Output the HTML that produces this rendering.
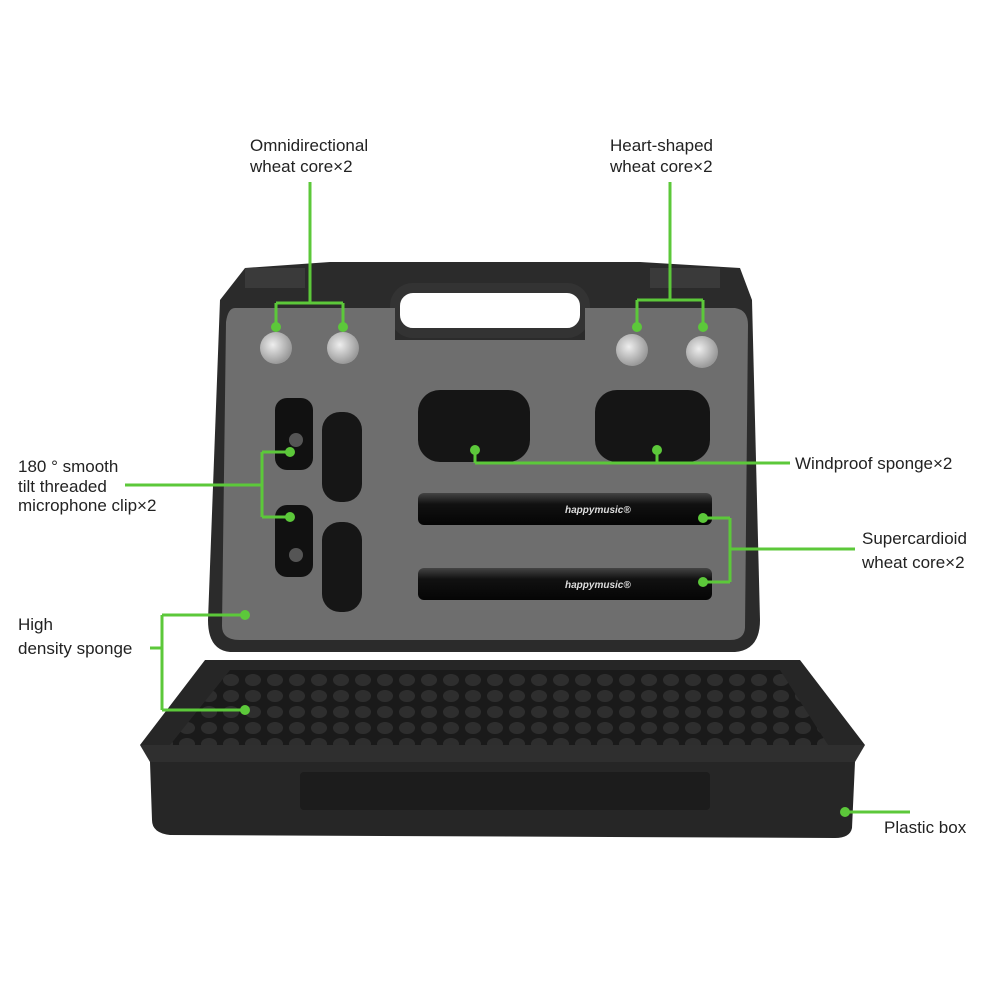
<!DOCTYPE html>
<html><head><meta charset="utf-8"><style>
html,body{margin:0;padding:0;background:#fff;}
svg{display:block}
text{font-family:"Liberation Sans","Noto Sans CJK SC",sans-serif;font-size:17px;fill:#222;}
</style></head><body>
<svg width="1000" height="1000" viewBox="0 0 1000 1000" xmlns="http://www.w3.org/2000/svg">
<defs>
<pattern id="egg" width="22" height="16" patternUnits="userSpaceOnUse">
<rect width="22" height="16" fill="#1a1a1a"/>
<ellipse cx="11" cy="8" rx="8" ry="6" fill="#2e2e2e"/>
</pattern>
<linearGradient id="mic" x1="0" y1="0" x2="0" y2="1">
<stop offset="0" stop-color="#444"/><stop offset="0.35" stop-color="#111"/><stop offset="1" stop-color="#050505"/>
</linearGradient>
<radialGradient id="cap" cx="0.4" cy="0.4" r="0.6">
<stop offset="0" stop-color="#eee"/><stop offset="1" stop-color="#999"/>
</radialGradient>
</defs>
<!-- lid -->
<path d="M245 268 L330 262 L640 262 L740 268 L752 300 L760 620 Q760 650 735 652 L230 652 Q208 650 208 620 L220 300 Z" fill="#2b2b2b"/>
<rect x="395" y="288" width="190" height="45" rx="18" fill="#fff" stroke="#333" stroke-width="10"/>
<rect x="245" y="268" width="60" height="20" fill="#3a3a3a"/>
<rect x="650" y="268" width="70" height="20" fill="#3a3a3a"/>
<!-- foam -->
<path d="M235 308 L395 308 L395 340 L585 340 L585 308 L735 308 Q748 310 748 325 L745 628 Q744 640 730 640 L240 640 Q222 640 222 626 L226 322 Q228 308 235 308 Z" fill="#6e6e6e"/>
<!-- capsules -->
<circle cx="276" cy="348" r="16" fill="url(#cap)"/>
<circle cx="343" cy="348" r="16" fill="url(#cap)"/>
<circle cx="632" cy="350" r="16" fill="url(#cap)"/>
<circle cx="702" cy="352" r="16" fill="url(#cap)"/>
<!-- windscreens -->
<rect x="418" y="390" width="112" height="72" rx="22" fill="#151515"/>
<rect x="595" y="390" width="115" height="72" rx="22" fill="#151515"/>
<!-- clips -->
<rect x="275" y="398" width="38" height="72" rx="12" fill="#111"/>
<rect x="322" y="412" width="40" height="90" rx="18" fill="#161616"/>
<rect x="275" y="505" width="38" height="72" rx="12" fill="#111"/>
<rect x="322" y="522" width="40" height="90" rx="18" fill="#161616"/>
<circle cx="296" cy="440" r="7" fill="#555"/><circle cx="296" cy="555" r="7" fill="#555"/>
<!-- mics -->
<rect x="418" y="493" width="294" height="32" rx="6" fill="url(#mic)"/>
<rect x="418" y="568" width="294" height="32" rx="6" fill="url(#mic)"/>
<text x="565" y="513" style="font-size:10px;fill:#ddd;font-style:italic;font-weight:bold">happymusic®</text>
<text x="565" y="588" style="font-size:10px;fill:#ddd;font-style:italic;font-weight:bold">happymusic®</text>
<!-- base -->
<path d="M205 660 L800 660 L865 745 L140 745 Z" fill="#262626"/>
<path d="M230 670 L780 670 L828 745 L170 745 Z" fill="url(#egg)"/>
<path d="M140 745 L865 745 L855 762 L150 762 Z" fill="#2f2f2f"/>
<path d="M150 762 L855 762 L852 828 Q850 838 835 838 L170 835 Q152 833 152 820 Z" fill="#262626"/>
<rect x="300" y="772" width="410" height="38" rx="4" fill="#1c1c1c"/>
<!-- green lines -->
<g stroke="#5cc83a" stroke-width="3" fill="none">
<path d="M310 182 V303 M276 303 H343 M276 303 V327 M343 303 V327"/>
<path d="M670 182 V300 M637 300 H703 M637 300 V327 M703 300 V327"/>
<path d="M125 485 H262 M262 452 V517 M262 452 H290 M262 517 H290"/>
<path d="M790 463 H475 M475 450 V463 M657 450 V463"/>
<path d="M855 549 H730 M730 518 V582 M703 518 H730 M703 582 H730"/>
<path d="M150 648 H162 M162 615 V710 M162 615 H245 M162 710 H245"/>
<path d="M910 812 H845"/>
</g>
<g fill="#5cc83a">
<circle cx="276" cy="327" r="5"/><circle cx="343" cy="327" r="5"/>
<circle cx="637" cy="327" r="5"/><circle cx="703" cy="327" r="5"/>
<circle cx="290" cy="452" r="5"/><circle cx="290" cy="517" r="5"/>
<circle cx="475" cy="450" r="5"/><circle cx="657" cy="450" r="5"/>
<circle cx="703" cy="518" r="5"/><circle cx="703" cy="582" r="5"/>
<circle cx="245" cy="615" r="5"/><circle cx="245" cy="710" r="5"/>
<circle cx="845" cy="812" r="5"/>
</g>
<!-- labels -->
<text x="250" y="151">Omnidirectional</text>
<text x="250" y="172">wheat core×2</text>
<text x="610" y="151">Heart-shaped</text>
<text x="610" y="172">wheat core×2</text>
<text x="18" y="472">180 ° smooth</text>
<text x="18" y="492">tilt threaded</text>
<text x="18" y="511">microphone clip×2</text>
<text x="795" y="469">Windproof sponge×2</text>
<text x="862" y="544">Supercardioid</text>
<text x="862" y="568">wheat core×2</text>
<text x="18" y="630">High</text>
<text x="18" y="654">density sponge</text>
<text x="884" y="833">Plastic box</text>
</svg>
</body></html>
